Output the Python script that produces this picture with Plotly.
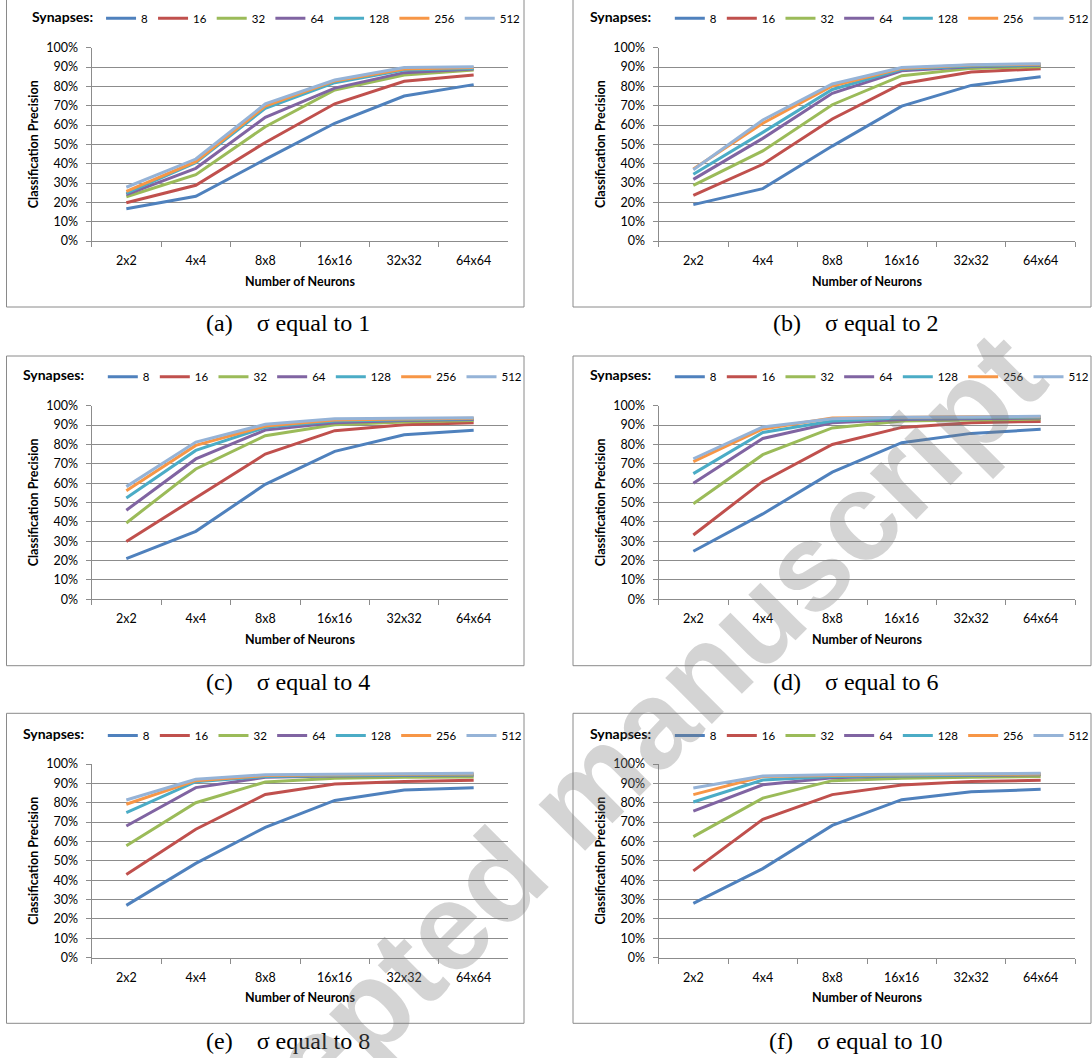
import plotly.graph_objects as go

# ---------------- data ----------------
categories = ["2x2", "4x4", "8x8", "16x16", "32x32", "64x64"]
synapses = ["8", "16", "32", "64", "128", "256", "512"]
y_ticks = [0, 10, 20, 30, 40, 50, 60, 70, 80, 90, 100]
y_tick_labels = ["0%", "10%", "20%", "30%", "40%", "50%", "60%", "70%", "80%", "90%", "100%"]

# precision (%) per synapse count, one row per series (8 ... 512)
sigma_1 = [
    [16.7, 23.1, 42.2, 60.9, 75.0, 80.9],
    [19.8, 28.8, 51.0, 71.0, 82.6, 85.9],
    [22.9, 34.3, 59.1, 78.1, 85.9, 88.4],
    [24.0, 37.6, 64.0, 79.1, 87.1, 89.0],
    [24.7, 40.5, 68.6, 81.9, 88.4, 89.3],
    [25.7, 41.0, 69.8, 82.8, 89.0, 89.7],
    [27.8, 42.4, 70.9, 83.3, 89.7, 90.2],
]
sigma_2 = [
    [18.8, 27.1, 49.1, 69.8, 80.5, 85.0],
    [23.6, 39.7, 63.1, 81.4, 87.4, 89.1],
    [28.8, 46.6, 70.5, 85.5, 89.3, 90.2],
    [31.9, 53.1, 76.4, 88.1, 90.2, 90.9],
    [34.5, 56.2, 78.4, 88.8, 90.5, 91.2],
    [37.2, 60.9, 80.2, 89.3, 91.0, 91.4],
    [36.9, 62.6, 81.2, 89.7, 91.2, 91.7],
]
sigma_4 = [
    [21.0, 35.1, 59.4, 76.4, 85.0, 87.3],
    [29.9, 52.3, 75.0, 87.1, 90.2, 91.2],
    [39.4, 67.3, 84.5, 90.2, 91.6, 92.3],
    [46.0, 72.5, 87.4, 91.2, 92.4, 92.9],
    [52.3, 76.9, 88.8, 92.1, 92.8, 93.3],
    [56.1, 79.5, 89.5, 92.6, 93.1, 93.5],
    [58.2, 81.2, 90.4, 93.3, 93.5, 93.8],
]
sigma_6 = [
    [24.8, 44.1, 65.7, 80.9, 85.7, 87.8],
    [33.2, 60.9, 80.0, 88.8, 91.2, 91.9],
    [49.4, 74.7, 88.5, 92.1, 92.6, 93.1],
    [59.9, 83.1, 91.2, 92.9, 93.3, 93.6],
    [64.9, 86.2, 92.1, 93.6, 93.8, 94.0],
    [71.1, 88.0, 93.6, 94.1, 94.3, 94.3],
    [72.6, 89.0, 93.3, 94.0, 94.1, 94.5],
]
sigma_8 = [
    [27.0, 48.7, 67.3, 81.2, 86.6, 87.8],
    [42.9, 66.3, 84.3, 89.7, 91.0, 91.6],
    [57.8, 80.0, 90.7, 92.6, 93.1, 93.3],
    [68.0, 87.8, 93.1, 93.8, 94.1, 94.3],
    [74.9, 90.9, 93.5, 94.1, 94.3, 94.5],
    [79.2, 91.4, 94.0, 94.5, 94.7, 94.8],
    [81.4, 92.1, 94.5, 94.8, 95.0, 95.2],
]
sigma_10 = [
    [28.0, 46.0, 68.3, 81.6, 85.7, 86.9],
    [44.8, 71.4, 84.2, 89.2, 91.0, 91.6],
    [62.5, 82.4, 91.4, 92.6, 93.1, 93.5],
    [75.7, 89.3, 92.9, 93.8, 94.1, 94.5],
    [80.4, 91.7, 93.6, 94.1, 94.3, 94.7],
    [84.2, 93.5, 94.1, 94.5, 94.7, 94.8],
    [87.6, 93.8, 94.5, 94.8, 95.0, 95.2],
]
panel_letters = ["(a)", "(b)", "(c)", "(d)", "(e)", "(f)"]
sigma_values = ["1", "2", "4", "6", "8", "10"]
x_title = "Number of Neurons"
y_title = "Classification Precision"
legend_title = "Synapses:"
watermark = "Accepted manuscript"

panels = [sigma_1, sigma_2, sigma_4, sigma_6, sigma_8, sigma_10]

# ---------------- styles ----------------
colors = ["#4F81BD", "#C0504D", "#9BBB59", "#8064A2", "#4BACC6", "#F79646", "#95B3D7"]
W, H = 1092, 1058
GRID = "#8c8c8c"
FONT = "Lato"


def fx(v):
    return v / W


def fy(v):
    return 1 - v / H


col_plot = [(91.6, 508.4), (658.6, 1075.4)]
col_box = [(6.5, 524.0), (573.0, 1091.0)]
row_plot = [(47.7, 241.0), (405.7, 599.3), (764.0, 957.7)]
row_box = [(-2.0, 307.0), (356.0, 665.7), (713.3, 1023.3)]
row_legend = [18.3, 376.7, 735.5]
row_xtitle = [281.7, 639.3, 997.3]
row_caption = [323.0, 681.7, 1040.7]
col_ytitle = [33.8, 600.7]
col_caption = [288.0, 856.0]
legend_left = [30.0, 588.0, 21.0, 588.0, 21.0, 588.0]
legend_pad = [0, 3, 3, 3, 3, 3]

fig = go.Figure()
layout = dict(
    width=W, height=H, autosize=False,
    margin=dict(l=0, r=0, t=0, b=0, autoexpand=False),
    paper_bgcolor="white", plot_bgcolor="white",
    showlegend=True,
)
annotations = []
shapes = []

for i, data in enumerate(panels):
    r, c = divmod(i, 2)
    k = "" if i == 0 else str(i + 1)
    xa, ya = "x" + k, "y" + k
    lg = "legend" + k
    for s, (name, vals) in enumerate(zip(synapses, data)):
        fig.add_trace(go.Scatter(
            x=categories, y=vals, name=name, mode="lines",
            line=dict(color=colors[s], width=3),
            xaxis=xa, yaxis=ya, legend=lg, showlegend=True,
            hovertemplate="%{x}: %{y:.1f}%<extra>" + name + "</extra>",
        ))
    x0, x1 = col_plot[c]
    y0, y1 = row_plot[r]
    layout["xaxis" + k] = dict(
        domain=[fx(x0), fx(x1)], anchor=ya,
        type="category", categoryorder="array", categoryarray=categories,
        range=[-0.5, 5.5], tickson="boundaries", ticks="outside", ticklen=5,
        tickcolor=GRID, showline=True, linecolor=GRID, linewidth=1,
        showgrid=False, zeroline=False, ticklabelstandoff=8,
        tickfont=dict(family=FONT, size=12.5, color="#000"),
    )
    layout["yaxis" + k] = dict(
        domain=[fy(y1), fy(y0)], anchor=xa,
        range=[0, 100], tickvals=y_ticks, ticktext=y_tick_labels,
        ticks="outside", ticklen=5, tickcolor=GRID,
        showline=True, linecolor=GRID, linewidth=1,
        showgrid=True, gridcolor=GRID, gridwidth=1, zeroline=False,
        ticklabelstandoff=5,
        tickfont=dict(family=FONT, size=12.5, color="#000"),
    )
    title_txt = "<b>" + legend_title + "</b>" + "\u00a0" * legend_pad[i]
    layout[lg] = dict(
        orientation="h", x=fx(legend_left[i]), xanchor="left",
        y=fy(row_legend[r]), yanchor="middle",
        title=dict(text=title_txt, side="left",
                   font=dict(family=FONT, size=14, color="#000")),
        font=dict(family=FONT, size=11.5, color="#000"),
        bgcolor="rgba(0,0,0,0)", borderwidth=0, itemwidth=30,
        traceorder="normal",
    )
    # panel frame
    bx0, bx1 = col_box[c]
    by0, by1 = row_box[r]
    shapes.append(dict(type="rect", xref="paper", yref="paper",
                       x0=fx(bx0), x1=fx(bx1), y0=fy(by1), y1=fy(by0),
                       line=dict(color="#8a8a8a", width=1), layer="below"))
    # axis titles
    annotations.append(dict(
        text="<b>" + x_title + "</b>", xref="paper", yref="paper",
        x=fx((x0 + x1) / 2), y=fy(row_xtitle[r]), xanchor="center", yanchor="middle",
        showarrow=False, font=dict(family=FONT, size=12.5, color="#000")))
    annotations.append(dict(
        text="<b>" + y_title + "</b>", xref="paper", yref="paper",
        x=fx(col_ytitle[c]), y=fy((y0 + y1) / 2), xanchor="center", yanchor="middle",
        textangle=-90, showarrow=False, font=dict(family=FONT, size=12.5, color="#000")))
    # caption
    annotations.append(dict(
        text=panel_letters[i] + "\u00a0" * 4 + "\u03c3 equal to " + sigma_values[i],
        xref="paper", yref="paper", x=fx(col_caption[c]), y=fy(row_caption[r]),
        xanchor="center", yanchor="middle", showarrow=False,
        font=dict(family="Liberation Serif", size=24, color="#000")))

# watermark
annotations.append(dict(
    text="<b>" + watermark + "</b>", xref="paper", yref="paper",
    x=fx(575), y=fy(800), xanchor="center", yanchor="middle",
    textangle=-45, showarrow=False,
    font=dict(family="Liberation Sans", size=124, color="rgba(120,120,120,0.32)")))

layout["annotations"] = annotations
layout["shapes"] = shapes
fig.update_layout(**layout)
fig.write_html(
    "out.html",
    config={"displayModeBar": False},
    post_script="document.body.style.margin='0';document.body.style.padding='0';",
)
